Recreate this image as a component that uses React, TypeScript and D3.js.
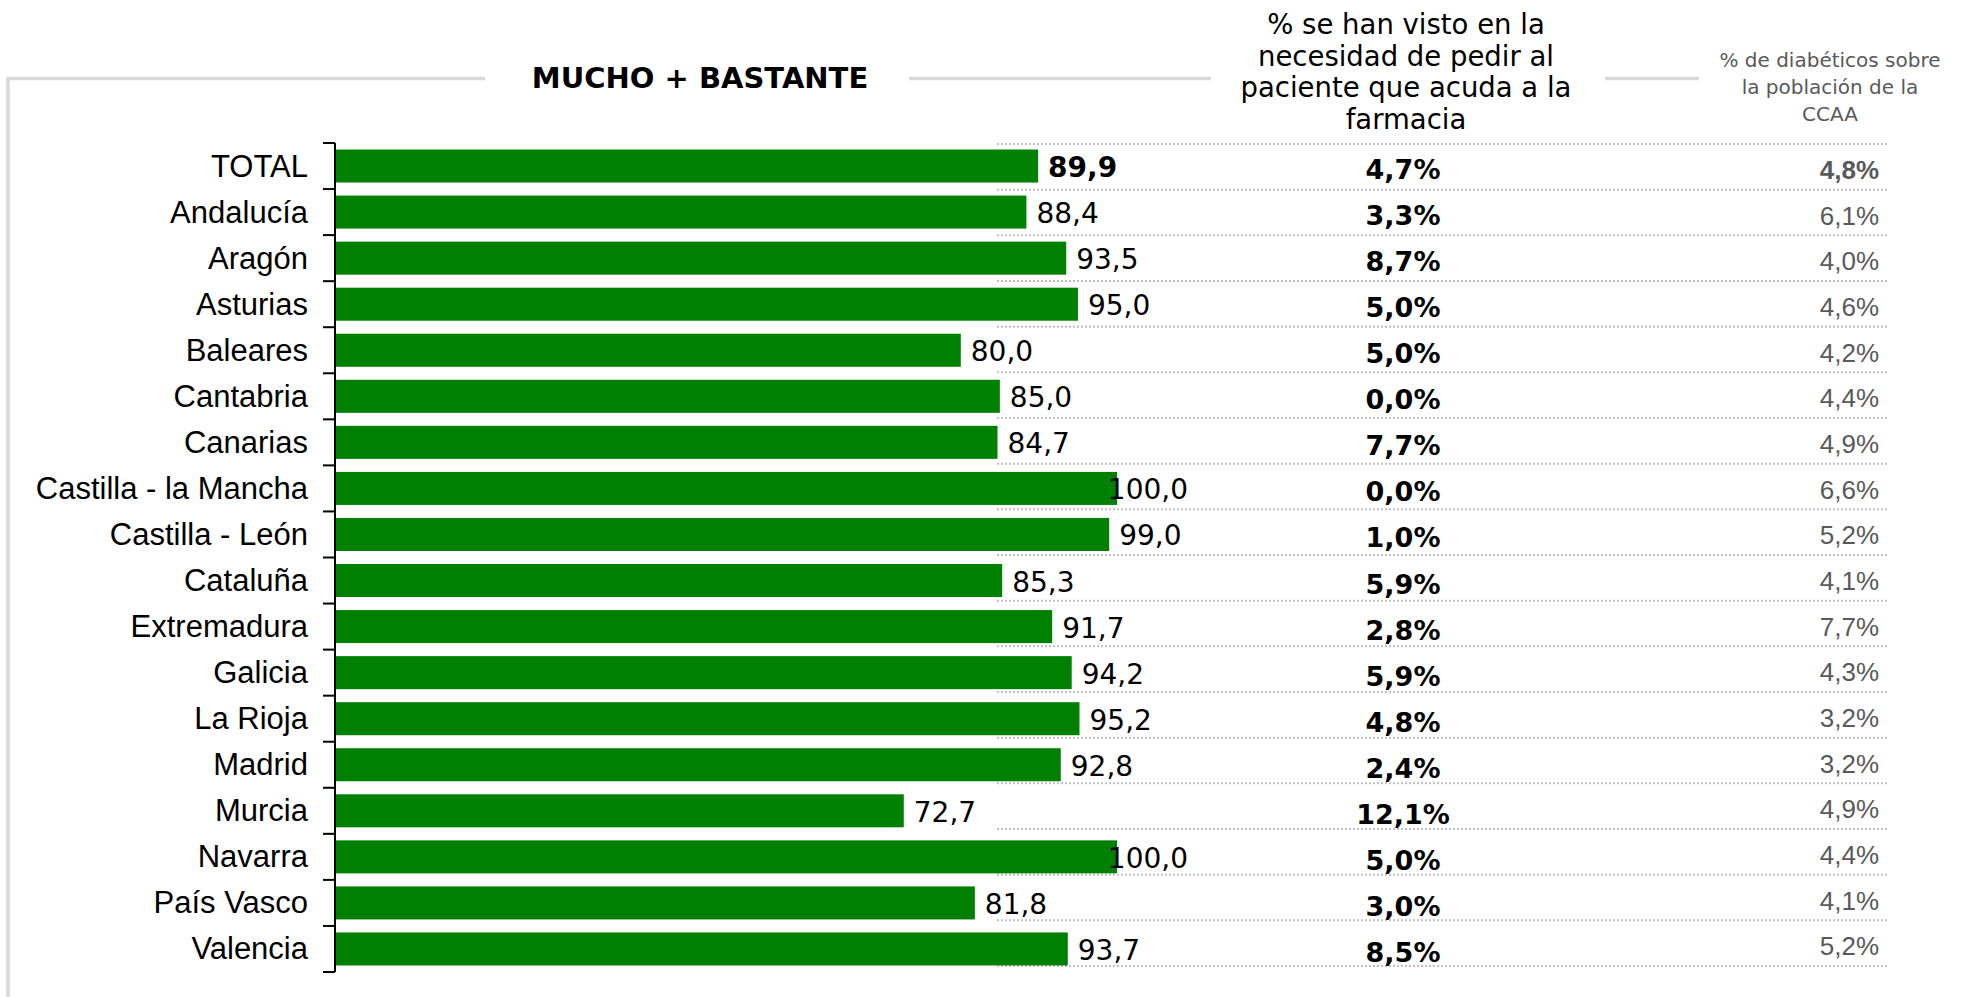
import React from "react";
import * as d3 from "d3";

const categories = [
  "TOTAL", "Andalucía", "Aragón", "Asturias", "Baleares", "Cantabria", "Canarias",
  "Castilla - la Mancha", "Castilla - León", "Cataluña", "Extremadura", "Galicia",
  "La Rioja", "Madrid", "Murcia", "Navarra", "País Vasco", "Valencia",
];
const muchoBastante = [89.9, 88.4, 93.5, 95.0, 80.0, 85.0, 84.7, 100.0, 99.0, 85.3, 91.7, 94.2, 95.2, 92.8, 72.7, 100.0, 81.8, 93.7];
const pedirFarmacia = [4.7, 3.3, 8.7, 5.0, 5.0, 0.0, 7.7, 0.0, 1.0, 5.9, 2.8, 5.9, 4.8, 2.4, 12.1, 5.0, 3.0, 8.5];
const diabeticos = [4.8, 6.1, 4.0, 4.6, 4.2, 4.4, 4.9, 6.6, 5.2, 4.1, 7.7, 4.3, 3.2, 3.2, 4.9, 4.4, 4.1, 5.2];
const xDomain = [0, 100];

const title = "MUCHO + BASTANTE";
const header2 = ["% se han visto en la", "necesidad de pedir al", "paciente que acuda a la", "farmacia"];
const header3 = ["% de diabéticos sobre", "la población de la", "CCAA"];

const W = 1986;
const H = 997;
const fmt = (v: number) => v.toFixed(1).replace(".", ",");

export default function App() {
  const x = d3.scaleLinear().domain(xDomain).range([336, 1117]);
  const y = d3.scaleBand<string>().domain(categories).range([143, 972]).paddingInner(0.283).paddingOuter(0.1415);
  const yStep = d3.scaleBand<string>().domain(categories).range([143, 972]);
  const yTable = d3.scaleBand<string>().domain(categories).range([144, 966]);

  const labelLimit = 1188;
  const valueFont = 28;
  const estWidth = (s: string) => s.length * 0.6 * valueFont;

  const gridLines = d3.range(categories.length + 1).map((i) => 144 + i * yTable.step());
  const ticks = d3.range(categories.length + 1).map((i) => 143 + i * yStep.step());

  const frame = "#d9d9d9";

  return (
    <svg width={W} height={H} style={{ position: "absolute", left: 0, top: 0, background: "#fff" }}>
      {/* frame lines */}
      <g stroke={frame} strokeWidth={3.5} fill="none">
        <line x1={8} y1={78.5} x2={485} y2={78.5} />
        <line x1={909} y1={78.5} x2={1211} y2={78.5} />
        <line x1={1605} y1={78.5} x2={1699} y2={78.5} />
        <line x1={8} y1={77} x2={8} y2={H} />
      </g>

      {/* headers */}
      <text x={700} y={88} textAnchor="middle" fontFamily="DejaVu Sans" fontWeight="bold" fontSize={29} fill="#000">
        {title}
      </text>
      {header2.map((t, i) => (
        <text key={t} x={1406} y={34 + i * 31.7} textAnchor="middle" fontFamily="DejaVu Sans" fontSize={27.5} fill="#000">
          {t}
        </text>
      ))}
      {header3.map((t, i) => (
        <text key={t} x={1830} y={67 + i * 27} textAnchor="middle" fontFamily="DejaVu Sans" fontSize={20} fill="#595959">
          {t}
        </text>
      ))}

      {/* dotted table lines */}
      <g stroke="#bfbfbf" strokeWidth={2} strokeDasharray="2,2">
        {gridLines.map((gy, i) => (
          <line key={i} x1={997} x2={1889} y1={gy} y2={gy} />
        ))}
      </g>

      {/* bars */}
      {categories.map((c, i) => (
        <rect key={c} x={x(0)} y={y(c)} width={x(muchoBastante[i]) - x(0)} height={y.bandwidth()} fill="#008000" />
      ))}

      {/* axis */}
      <g stroke="#000" strokeWidth={2}>
        <line x1={335} x2={335} y1={143} y2={972} />
        {ticks.map((t, i) => (
          <line key={i} x1={323} x2={335} y1={t} y2={t} />
        ))}
      </g>

      {/* category labels */}
      {categories.map((c) => (
        <text key={c} x={308} y={yStep(c)! + yStep.step() / 2 + 10.5} textAnchor="end" fontFamily="Liberation Sans" fontSize={31} fill="#000">
          {c}
        </text>
      ))}

      {/* value labels */}
      {categories.map((c, i) => {
        const s = fmt(muchoBastante[i]);
        const start = x(muchoBastante[i]) + 10;
        const over = start + estWidth(s) > labelLimit;
        return (
          <text
            key={c}
            x={over ? labelLimit : start}
            y={yStep(c)! + yStep.step() / 2 + 11}
            textAnchor={over ? "end" : "start"}
            fontFamily="DejaVu Sans"
            fontWeight={i === 0 ? "bold" : "normal"}
            fontSize={valueFont}
            fill="#000"
          >
            {s}
          </text>
        );
      })}

      {/* column 2 */}
      {categories.map((c, i) => (
        <text key={c} x={1403} y={yStep(c)! + yStep.step() / 2 + 13} textAnchor="middle" fontFamily="DejaVu Sans" fontWeight="bold" fontSize={27} fill="#000">
          {fmt(pedirFarmacia[i]) + "%"}
        </text>
      ))}

      {/* column 3 */}
      {categories.map((c, i) => (
        <text key={c} x={1879} y={yTable(c)! + yTable.step() / 2 + 12} textAnchor="end" fontFamily="Liberation Sans" fontWeight={i === 0 ? "bold" : "normal"} fontSize={26} fill="#595959">
          {fmt(diabeticos[i]) + "%"}
        </text>
      ))}
    </svg>
  );
}
